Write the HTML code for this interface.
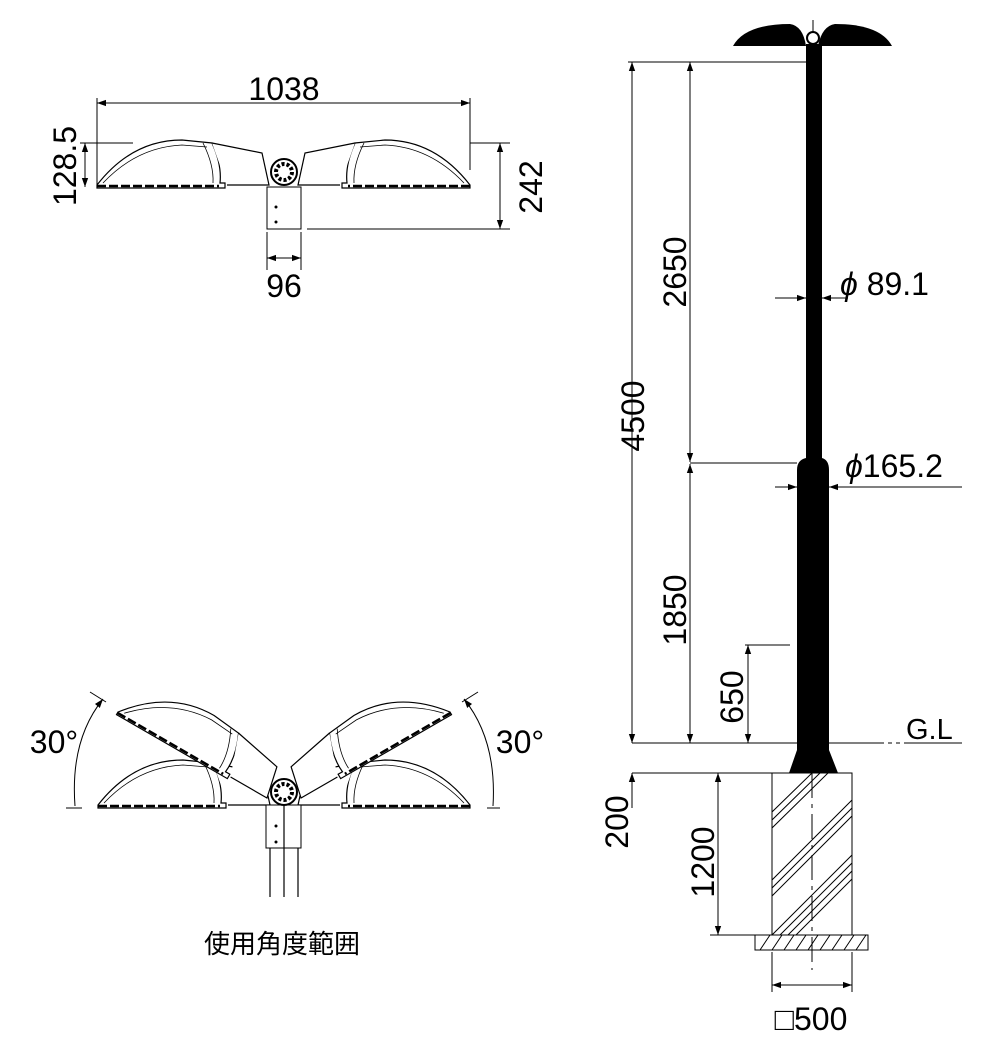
<!DOCTYPE html>
<html><head><meta charset="utf-8"><style>
html,body{margin:0;padding:0;background:#fff;}
svg{display:block;}
text{font-family:"Liberation Sans","Noto Sans CJK JP",sans-serif;fill:#000;}
</style></head><body>
<svg width="1000" height="1040" viewBox="0 0 1000 1040" xmlns="http://www.w3.org/2000/svg">
<defs>
<marker id="a" viewBox="0 0 10 10" refX="10" refY="5" markerWidth="9" markerHeight="9" orient="auto-start-reverse"><path d="M0,1.5L10,5L0,8.5z" fill="#000"/></marker>
<g id="head">
<path d="M0,0 Q35,-45 85,-45 L115,-42 Q125,-20 123,-2 L128,-2 L128,3 L0,3 Z" fill="#fff" stroke="#000" stroke-width="1.2"/>
<path d="M6,-2 Q40,-38 85,-40 L110,-38" fill="none" stroke="#000" stroke-width="0.8"/>
<path d="M106,-42 Q117,-20 116,-2" fill="none" stroke="#000" stroke-width="0.8"/>
<line x1="0" y1="1" x2="122" y2="1" stroke="#000" stroke-width="2.5" stroke-dasharray="9,3"/>
<path d="M115,-42 L165,-32 L172,0 L130,0" fill="#fff" stroke="#000" stroke-width="1.2"/>
</g>
</defs>
<g stroke="#000" stroke-width="1" fill="none">
<line x1="97" y1="98" x2="97" y2="185"/>
<line x1="470" y1="98" x2="470" y2="170"/>
<line x1="97" y1="103" x2="470" y2="103" marker-start="url(#a)" marker-end="url(#a)"/>
<line x1="80" y1="143" x2="133" y2="143"/>
<line x1="85" y1="143" x2="85" y2="187" marker-start="url(#a)" marker-end="url(#a)"/>
<line x1="470" y1="143" x2="510" y2="143"/>
<line x1="307" y1="229" x2="510" y2="229"/>
<line x1="500" y1="143" x2="500" y2="229" marker-start="url(#a)" marker-end="url(#a)"/>
<line x1="267" y1="232" x2="267" y2="270"/><line x1="301" y1="232" x2="301" y2="270"/>
<line x1="267" y1="258" x2="301" y2="258" marker-start="url(#a)" marker-end="url(#a)"/>
</g>
<use href="#head" x="97" y="185"/>
<use href="#head" transform="translate(470,185) scale(-1,1)"/>
<rect x="267" y="187" width="34" height="42" fill="#fff" stroke="#000"/>
<circle cx="276" cy="207" r="1.5"/><circle cx="276" cy="222" r="1.5"/>
<circle cx="284" cy="172" r="13" fill="#fff" stroke="#000" stroke-width="2"/>
<circle cx="284" cy="172" r="8" fill="none" stroke="#000" stroke-width="4" stroke-dasharray="3,2"/>
<text x="284" y="100" font-size="32" text-anchor="middle">1038</text>
<text transform="translate(76,166) rotate(-90)" font-size="32" text-anchor="middle">128.5</text>
<text transform="translate(542,187) rotate(-90)" font-size="32" text-anchor="middle">242</text>
<text x="284" y="297" font-size="32" text-anchor="middle">96</text>

<use href="#head" x="98" y="805"/>
<use href="#head" transform="translate(470,805) scale(-1,1)"/>
<use href="#head" transform="translate(118,712) rotate(30) scale(1,1)"/>
<use href="#head" transform="translate(450,712) rotate(-30) scale(-1,1)"/>
<rect x="266" y="805" width="35" height="43" fill="#fff" stroke="#000"/>
<circle cx="276" cy="826" r="1.5"/><circle cx="276" cy="842" r="1.5"/>
<g stroke="#000" stroke-width="1.2"><line x1="270" y1="848" x2="270" y2="897"/><line x1="284" y1="785" x2="284" y2="897"/><line x1="298" y1="848" x2="298" y2="897"/></g>
<circle cx="284" cy="792" r="13" fill="#fff" stroke="#000" stroke-width="2"/>
<circle cx="284" cy="792" r="8" fill="none" stroke="#000" stroke-width="4" stroke-dasharray="3,2"/>
<g stroke="#000" stroke-width="1" fill="none">
<path d="M75,806 Q70,740 103,699" marker-end="url(#a)"/>
<line x1="90" y1="692" x2="106" y2="702"/>
<line x1="66" y1="808" x2="82" y2="808"/>
<path d="M493,806 Q497,740 464,699" marker-end="url(#a)"/>
<line x1="478" y1="692" x2="462" y2="702"/>
<line x1="487" y1="808" x2="500" y2="808"/>
</g>
<text x="54" y="753" font-size="32" text-anchor="middle">30°</text>
<text x="520" y="753" font-size="32" text-anchor="middle">30°</text>
<text x="282" y="953" font-size="26" text-anchor="middle">使用角度範囲</text>

<path d="M733,46 Q745,24 790,24 Q803,26 806,46 Z" fill="#000"/>
<path d="M892,46 Q880,24 835,24 Q822,26 818,46 Z" fill="#000"/>
<circle cx="813" cy="38" r="6" fill="#fff" stroke="#000" stroke-width="2"/>
<line x1="813" y1="20" x2="813" y2="32" stroke="#000"/>
<rect x="806" y="44" width="16" height="420" fill="#000"/>
<path d="M806,458 Q797,460 797,470 L797,750 L789,773 L838,773 L829,750 L829,470 Q829,460 822,458 Z" fill="#000"/>
<rect x="772" y="773" width="80" height="162" fill="#fff" stroke="#000"/>
<clipPath id="c"><rect x="772" y="773" width="80" height="162"/></clipPath>
<g stroke="#000" stroke-width="1" clip-path="url(#c)">
<path d="M772,812 L812,773 M772,820 L820,773 M772,828 L828,773 M772,880 L852,800 M772,888 L852,808 M772,896 L852,816 M772,935 L852,855 M780,935 L852,863 M788,935 L852,871 M796,935 L852,879"/>
</g>
<rect x="755" y="935" width="113" height="15" fill="#fff" stroke="#000"/>
<path d="M760,950 L770,935 M772,950 L782,935 M784,950 L794,935 M796,950 L806,935 M808,950 L818,935 M820,950 L830,935 M832,950 L842,935 M844,950 L854,935 M856,950 L866,935" stroke="#000"/>
<line x1="812" y1="773" x2="812" y2="970" stroke="#000" stroke-dasharray="25,6,4,6"/>
<g stroke="#000" stroke-width="1" fill="none">
<line x1="628" y1="62" x2="806" y2="62"/>
<line x1="632" y1="62" x2="632" y2="743" marker-start="url(#a)" marker-end="url(#a)"/>
<line x1="690" y1="62" x2="690" y2="462" marker-start="url(#a)" marker-end="url(#a)"/>
<line x1="690" y1="463" x2="797" y2="463"/>
<line x1="690" y1="464" x2="690" y2="743" marker-start="url(#a)" marker-end="url(#a)"/>
<line x1="745" y1="645" x2="790" y2="645"/>
<line x1="748" y1="645" x2="748" y2="743" marker-start="url(#a)" marker-end="url(#a)"/>
<line x1="632" y1="743" x2="797" y2="743"/>
<line x1="829" y1="743" x2="880" y2="743"/>
<line x1="880" y1="743" x2="905" y2="743" stroke-dasharray="4,4"/>
<line x1="905" y1="743" x2="962" y2="743"/>
<line x1="632" y1="773" x2="772" y2="773"/>
<line x1="632" y1="773" x2="632" y2="808" marker-start="url(#a)"/>
<line x1="718" y1="773" x2="718" y2="935" marker-start="url(#a)" marker-end="url(#a)"/>
<line x1="710" y1="935" x2="755" y2="935"/>
<line x1="772" y1="952" x2="772" y2="992"/><line x1="852" y1="952" x2="852" y2="992"/>
<line x1="772" y1="985" x2="852" y2="985" marker-start="url(#a)" marker-end="url(#a)"/>
<line x1="775" y1="298" x2="806" y2="298" marker-end="url(#a)"/>
<line x1="848" y1="298" x2="822" y2="298" marker-end="url(#a)"/>
<line x1="775" y1="487" x2="797" y2="487" marker-end="url(#a)"/>
<line x1="962" y1="487" x2="829" y2="487" marker-end="url(#a)"/>
</g>
<text transform="translate(644,416) rotate(-90)" font-size="32" text-anchor="middle">4500</text>
<text transform="translate(686,272) rotate(-90)" font-size="32" text-anchor="middle">2650</text>
<text transform="translate(686,610) rotate(-90)" font-size="32" text-anchor="middle">1850</text>
<text transform="translate(743,697) rotate(-90)" font-size="32" text-anchor="middle">650</text>
<text transform="translate(628,822) rotate(-90)" font-size="32" text-anchor="middle">200</text>
<text transform="translate(714,862) rotate(-90)" font-size="32" text-anchor="middle">1200</text>
<text x="840" y="295" font-size="32"><tspan font-style="italic">ϕ</tspan> 89.1</text>
<text x="845" y="477" font-size="32"><tspan font-style="italic">ϕ</tspan>165.2</text>
<text x="906" y="739" font-size="29">G.L</text>
<text x="811" y="1030" font-size="32" text-anchor="middle">□500</text>
</svg>
</body></html>
